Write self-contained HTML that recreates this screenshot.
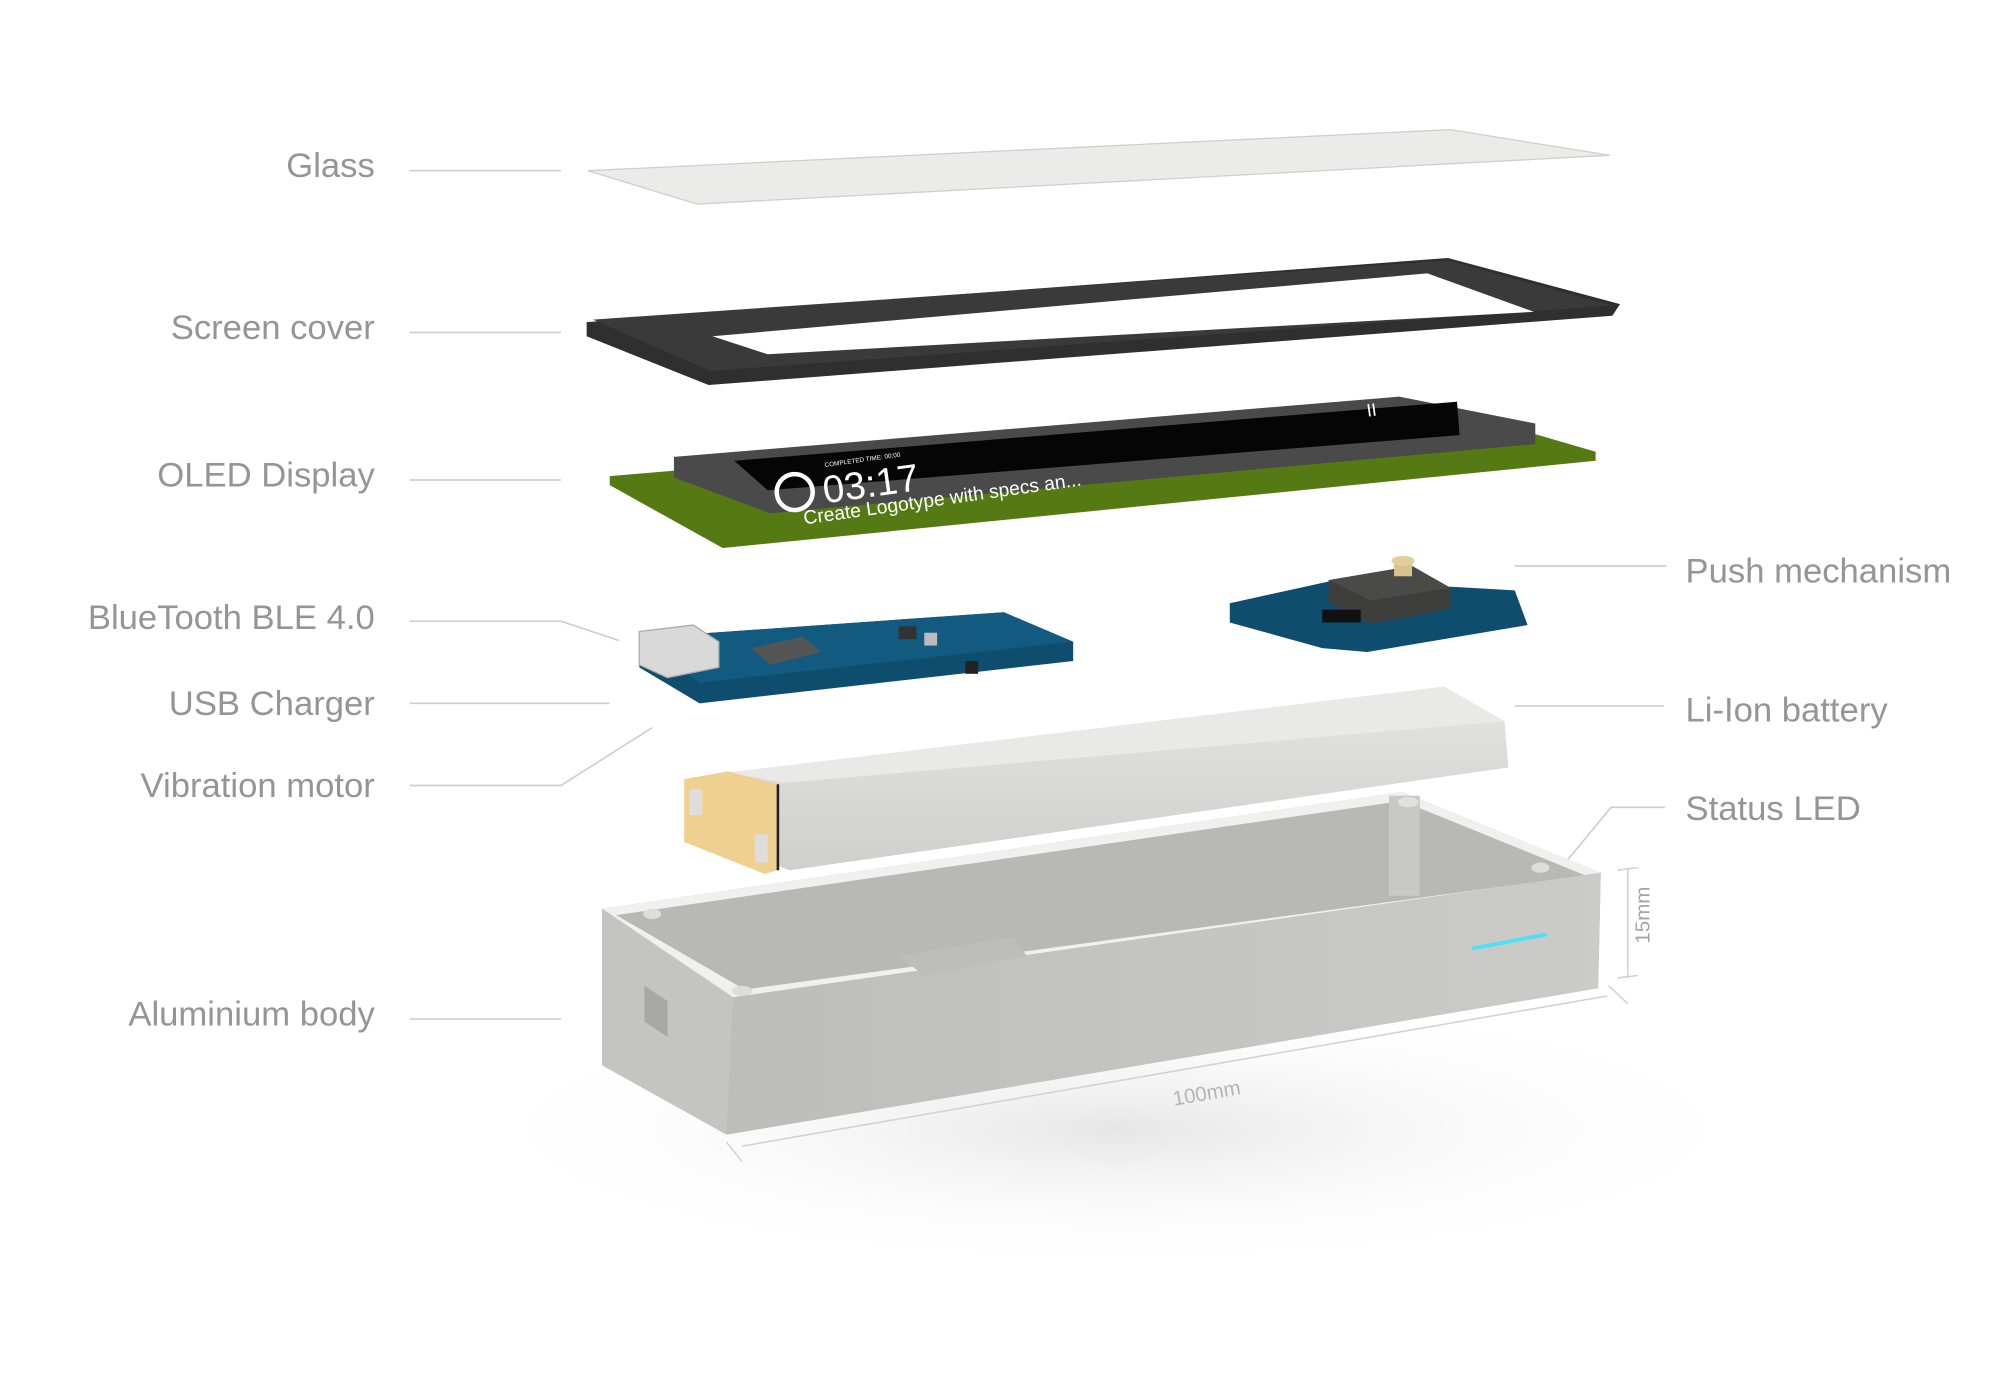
<!DOCTYPE html>
<html><head><meta charset="utf-8"><style>
html,body{margin:0;padding:0;background:#fff;width:2000px;height:1390px;overflow:hidden}
svg{display:block}
.l{font-family:"Liberation Sans",sans-serif;font-size:27px;fill:#959595;font-weight:300}
.ln{stroke:#cfcfcf;stroke-width:1.3;fill:none}
</style></head><body>
<svg width="2000" height="1390" viewBox="0 0 1558 1083" preserveAspectRatio="none" xmlns="http://www.w3.org/2000/svg">
<defs>
<radialGradient id="sh" cx="50%" cy="50%" r="50%"><stop offset="0" stop-color="#e6e6e6"/><stop offset="1" stop-color="#fff" stop-opacity="0"/></radialGradient>
<linearGradient id="bat" x1="0" y1="0" x2="0" y2="1"><stop offset="0" stop-color="#e4e4e2"/><stop offset="1" stop-color="#cfcfcc"/></linearGradient>
<linearGradient id="fr" x1="0" y1="0" x2="1" y2="0"><stop offset="0" stop-color="#bdbdba"/><stop offset="1" stop-color="#cbcbc8"/></linearGradient>
</defs>
<g class="l" text-anchor="end">
<text x="292" y="138">Glass</text>
<text x="292" y="264">Screen cover</text>
<text x="292" y="379">OLED Display</text>
<text x="292" y="490">BlueTooth BLE 4.0</text>
<text x="292" y="557">USB Charger</text>
<text x="292" y="621">Vibration motor</text>
<text x="292" y="799">Aluminium body</text>
</g>
<g class="l">
<text x="1313" y="454">Push mechanism</text>
<text x="1313" y="562">Li-Ion battery</text>
<text x="1313" y="639">Status LED</text>
</g>
<g class="ln">
<line x1="319" y1="133" x2="437" y2="133"/>
<line x1="319" y1="259" x2="437" y2="259"/>
<line x1="319" y1="374" x2="437" y2="374"/>
<polyline points="319,484 437,484 482,499"/>
<line x1="319" y1="548" x2="475" y2="548"/>
<polyline points="319,612 437,612 508,567"/>
<line x1="319" y1="794" x2="437" y2="794"/>
<line x1="1180" y1="441" x2="1298" y2="441"/>
<line x1="1180" y1="550" x2="1296" y2="550"/>
<polyline points="1297,629 1255,629 1180,720"/>
</g>
<polygon points="458,133 1130,101 1254,121 543,159" fill="#ebebea" stroke="#cfcfcf" stroke-width="1"/>
<polygon points="457,251 1128,201 1262,237 1256,246 552,300 457,262" fill="#2f2f2f"/>
<polygon points="462,249 1128,203 1256,238 553,289" fill="#3a3a3a"/>
<polygon points="555,262 1112,213 1195,243 598,276" fill="#fff"/>
<polygon points="475,371 1120,316 1243,352 1243,359 563,427 475,378" fill="#557a14"/>
<polygon points="525,356 1090,309 1196,330 1196,346 600,400 525,372" fill="#4a4a4a"/>
<polygon points="572,359 1135,313 1137,339 598,382" fill="#050505"/>
<g transform="rotate(-8 700 370)" font-family="Liberation Sans,sans-serif" fill="#fff">
<circle cx="618" cy="372" r="14" fill="none" stroke="#fff" stroke-width="3.5"/>
<text x="640" y="384" font-size="30">03:17</text>
<text x="644" y="356" font-size="5">COMPLETED TIME: 00:00</text>
<text x="622" y="398" font-size="15">Create Logotype with specs an...</text>
<text x="1068" y="376" font-size="14">II</text>
</g>
<polygon points="498,497 782,477 836,500 836,515 545,548 498,520" fill="#0f4d6e"/>
<polygon points="498,497 782,477 836,500 545,532" fill="#135a80"/>
<polygon points="498,492 540,487 560,500 560,520 520,528 498,518" fill="#d9d9d9" stroke="#aaa" stroke-width="1"/>
<polygon points="585,505 625,496 640,508 600,518" fill="#555"/>
<rect x="700" y="488" width="14" height="10" fill="#333"/>
<rect x="720" y="493" width="10" height="10" fill="#bbb"/>
<rect x="752" y="515" width="10" height="10" fill="#222"/>
<polygon points="958,470 1040,452 1180,460 1190,487 1065,508 1030,505 958,485" fill="#0f4d6e"/>
<polygon points="1035,452 1100,441 1130,458 1130,474 1068,486 1035,470" fill="#3d3d3b"/>
<polygon points="1035,452 1100,441 1130,458 1068,468" fill="#4a4a48"/>
<rect x="1086" y="435" width="14" height="14" fill="#d9c38b"/>
<ellipse cx="1093" cy="437" rx="9" ry="4" fill="#e3cf9a"/>
<rect x="1030" y="475" width="30" height="10" fill="#111"/>
<polygon points="567,602 1125,535 1172,562 1175,598 615,678 567,660" fill="url(#bat)"/>
<polygon points="567,602 1125,535 1172,562 610,610" fill="#e9e9e7"/>
<polygon points="533,607 567,601 605,611 605,678 596,681 533,656" fill="#efd090"/>
<rect x="537" y="615" width="10" height="20" fill="#ddd"/>
<rect x="588" y="650" width="10" height="22" fill="#ddd"/>
<line x1="606" y1="611" x2="606" y2="678" stroke="#222" stroke-width="2"/>
<ellipse cx="870" cy="880" rx="520" ry="110" fill="url(#sh)"/>
<polygon points="469,708 1092,617 1247,680 1245,770 566,884 469,830" fill="#b7b7b4"/>
<polygon points="469,708 1092,617 1247,680 571,777" fill="#f0f0ee"/>
<polygon points="480,713 1092,624 1235,682 580,771" fill="#b8b8b5"/>
<polygon points="571,777 1247,680 1245,770 566,884" fill="url(#fr)"/>
<polygon points="469,708 571,777 566,884 469,830" fill="#c4c4c1"/>
<rect x="1082" y="620" width="24" height="78" fill="#c8c8c5"/>
<ellipse cx="1097" cy="625" rx="8" ry="4" fill="#e0e0de"/>
<ellipse cx="578" cy="772" rx="8" ry="4" fill="#ddd"/>
<ellipse cx="508" cy="712" rx="7" ry="4" fill="#ddd"/>
<ellipse cx="1200" cy="676" rx="7" ry="4" fill="#ddd"/>
<polygon points="700,745 790,730 800,745 720,760" fill="#bdbdba"/>
<polygon points="502,768 520,780 520,808 502,796" fill="#a8a8a5"/>
<line x1="1147" y1="739" x2="1205" y2="728" stroke="#4fe0f5" stroke-width="3"/>
<g stroke="#d2d2d2" stroke-width="1.2" fill="none">
<line x1="578" y1="893" x2="1252" y2="776"/>
<line x1="566" y1="890" x2="578" y2="905"/>
<line x1="1253" y1="768" x2="1268" y2="782"/>
<line x1="1268" y1="676" x2="1268" y2="762"/>
<line x1="1260" y1="678" x2="1276" y2="676"/>
<line x1="1260" y1="762" x2="1276" y2="760"/>
</g>
<text x="940" y="857" text-anchor="middle" transform="rotate(-10 940 852)" style="font-family:'Liberation Sans',sans-serif;font-size:16px;fill:#b5b5b5">100mm</text>
<text x="1290" y="718" text-anchor="middle" transform="rotate(-90 1285 718)" style="font-family:'Liberation Sans',sans-serif;font-size:16px;fill:#a5a5a5">15mm</text>
</svg>
</body></html>
